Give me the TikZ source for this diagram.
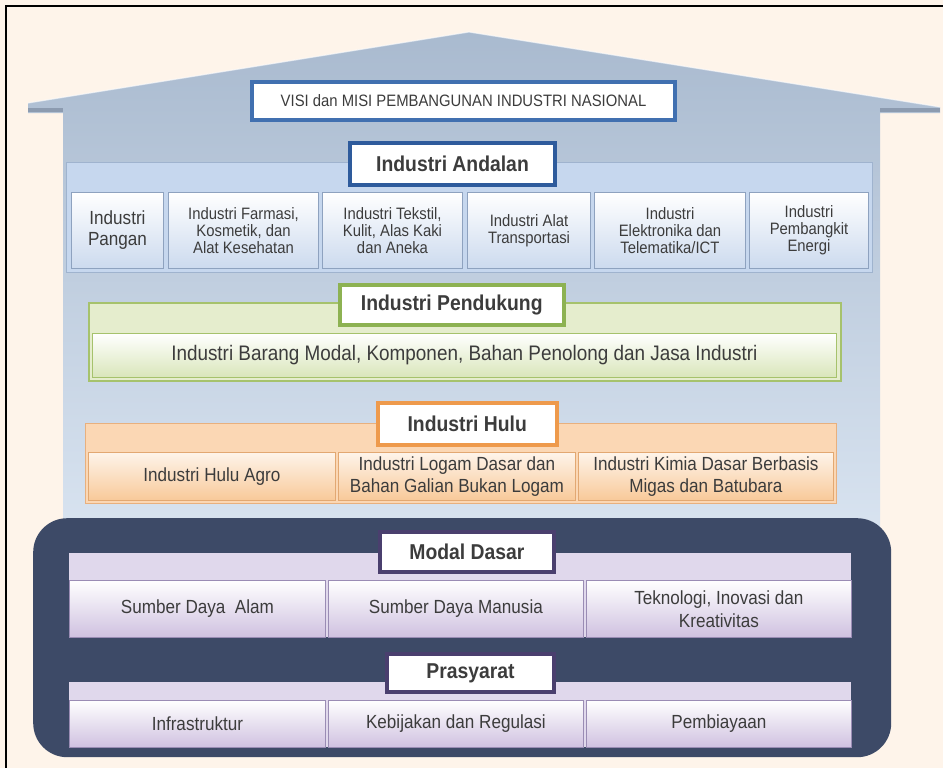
\documentclass[tikz,border=0pt]{standalone}
\usepackage{fontspec}
\setmainfont{Liberation Sans}[FakeStretch=0.9]
\definecolor{bgc}{HTML}{FEF4EA}
\definecolor{housetop}{HTML}{A9BACF}
\definecolor{housebot}{HTML}{D8E3F0}
\definecolor{eavec}{HTML}{8C9BB0}
\definecolor{txtc}{HTML}{3C3C3C}
\definecolor{visic}{HTML}{4170B0}
\definecolor{andc}{HTML}{2E5B9C}
\definecolor{andband}{HTML}{C6D7EE}
\definecolor{andbandd}{HTML}{9FB3CE}
\definecolor{andcellb}{HTML}{CCDAEE}
\definecolor{andcelld}{HTML}{8EA2BF}
\definecolor{penc}{HTML}{8DB252}
\definecolor{penband}{HTML}{E5EDCD}
\definecolor{penbandd}{HTML}{A6C26C}
\definecolor{penrowb}{HTML}{D9E6BA}
\definecolor{huluc}{HTML}{EE9A4C}
\definecolor{huluband}{HTML}{FBD7B4}
\definecolor{hulubandd}{HTML}{E8B07E}
\definecolor{hulucellb}{HTML}{F8C999}
\definecolor{hulucelld}{HTML}{E2A872}
\definecolor{navyc}{HTML}{3D4A67}
\definecolor{modc}{HTML}{4A3F6E}
\definecolor{modband}{HTML}{E0D8EC}
\definecolor{modcellb}{HTML}{CFC1E0}
\definecolor{modcelld}{HTML}{9A8CB4}
\newcommand\pbox[7]{\node[#6, anchor=north west, inner sep=0pt, minimum width={(#4-#2)*1pt}, minimum height={(#5-#3)*1pt}] (#1) at (#2,#3) {#7};}
\begin{document}
\begin{tikzpicture}[x=1pt,y=-1pt,
  hdrbox/.style={fill=white, line width=3.5pt, text=txtc, align=center, font=\fontsize{21.5}{24}\selectfont\bfseries},
  andcell/.style={top color=white, bottom color=andcellb, draw=andcelld, line width=1pt, text=txtc, align=center, font=\fontsize{16.5}{17}\selectfont},
  hulucell/.style={top color=bgc, bottom color=hulucellb, draw=hulucelld, line width=0.8pt, text=txtc, align=center, font=\fontsize{19}{22}\selectfont},
  modcell/.style={top color=white, bottom color=modcellb, draw=modcelld, line width=0.8pt, text=txtc, align=center, font=\fontsize{19}{23}\selectfont}]
\useasboundingbox (0,0) rectangle (943,768);
\fill[bgc] (0,0) rectangle (943,768);
\draw[black, line width=2pt] (6,768) -- (6,6) -- (943,6);
% house
\shade[top color=housetop, bottom color=housebot]
  (28,103) -- (469,32) -- (940,107) -- (940,113) -- (880,113) -- (880,530)
  -- (63,530) -- (63,113) -- (28,113) -- cycle;
\draw[eavec, line width=4pt] (28,110) -- (63,110);
\draw[eavec, line width=4pt] (880,110) -- (940,110);
\draw[white, opacity=0.6, line width=1.2pt] (28,103) -- (469,32) -- (940,107);
% visi
\pbox{visi}{250}{80}{673}{118}{fill=white, draw=visic, line width=4pt, text=txtc, font=\fontsize{16.5}{18}\selectfont}{VISI dan MISI PEMBANGUNAN INDUSTRI NASIONAL}
% andalan
\pbox{andband}{66}{162}{872}{272}{fill=andband, draw=andbandd, line width=1pt}{}
\pbox{a1}{71}{192}{163}{268}{andcell, font=\fontsize{19}{21}\selectfont}{Industri\\Pangan}
\pbox{a2}{168}{192}{318}{268}{andcell}{Industri Farmasi,\\Kosmetik, dan\\Alat Kesehatan}
\pbox{a3}{322}{192}{462}{268}{andcell}{Industri Tekstil,\\Kulit, Alas Kaki\\dan Aneka}
\pbox{a4}{467}{192}{590}{268}{andcell}{Industri Alat\\Transportasi}
\pbox{a5}{594}{192}{745}{268}{andcell}{Industri\\Elektronika dan\\Telematika/ICT}
\pbox{a6}{749}{192}{868}{268}{andcell}{Industri\\Pembangkit\\Energi}
\pbox{andhdr}{348}{141}{553}{183}{hdrbox, draw=andc, line width=4pt}{Industri Andalan}
% pendukung
\pbox{penband}{88}{302}{840}{380}{fill=penband, draw=penbandd, line width=1.5pt}{}
\pbox{penrow}{92}{333}{836}{377}{top color=white, bottom color=penrowb, draw=penbandd, line width=0.8pt, text=txtc, font=\fontsize{21}{24}\selectfont}{Industri Barang Modal, Komponen, Bahan Penolong dan Jasa Industri}
\pbox{penhdr}{338}{283}{562}{323}{hdrbox, draw=penc}{Industri Pendukung}
% hulu
\pbox{huluband}{85}{423}{836}{503}{fill=huluband, draw=hulubandd, line width=1.2pt}{}
\pbox{h1}{88}{452}{335}{500}{hulucell}{Industri Hulu Agro}
\pbox{h2}{338}{452}{575}{500}{hulucell}{Industri Logam Dasar dan\\Bahan Galian Bukan Logam}
\pbox{h3}{578}{452}{833}{500}{hulucell}{Industri Kimia Dasar Berbasis\\Migas dan Batubara}
\pbox{huluhdr}{376}{401}{555}{443}{hdrbox, draw=huluc}{Industri Hulu}
% navy base
\pbox{base}{33}{518}{891}{757}{fill=navyc, rounded corners=34pt}{}
% modal dasar
\pbox{modband}{69}{553}{851}{637}{fill=modband}{}
\pbox{m1}{69}{580}{325}{637}{modcell}{Sumber Daya~ Alam}
\pbox{m2}{328}{580}{583}{637}{modcell}{Sumber Daya Manusia}
\pbox{m3}{586}{580}{851}{637}{modcell}{Teknologi, Inovasi dan\\Kreativitas}
\pbox{modhdr}{378}{530}{552}{570}{hdrbox, draw=modc, line width=4pt}{Modal Dasar}
% prasyarat
\pbox{praband}{69}{682}{851}{747}{fill=modband}{}
\pbox{p1}{69}{700}{325}{747}{modcell}{Infrastruktur}
\pbox{p2}{328}{700}{583}{747}{modcell}{Kebijakan dan Regulasi}
\pbox{p3}{586}{700}{851}{747}{modcell}{Pembiayaan}
\pbox{prahdr}{385}{652}{552}{690}{hdrbox, draw=modc, line width=4pt}{Prasyarat}
\end{tikzpicture}
\end{document}
